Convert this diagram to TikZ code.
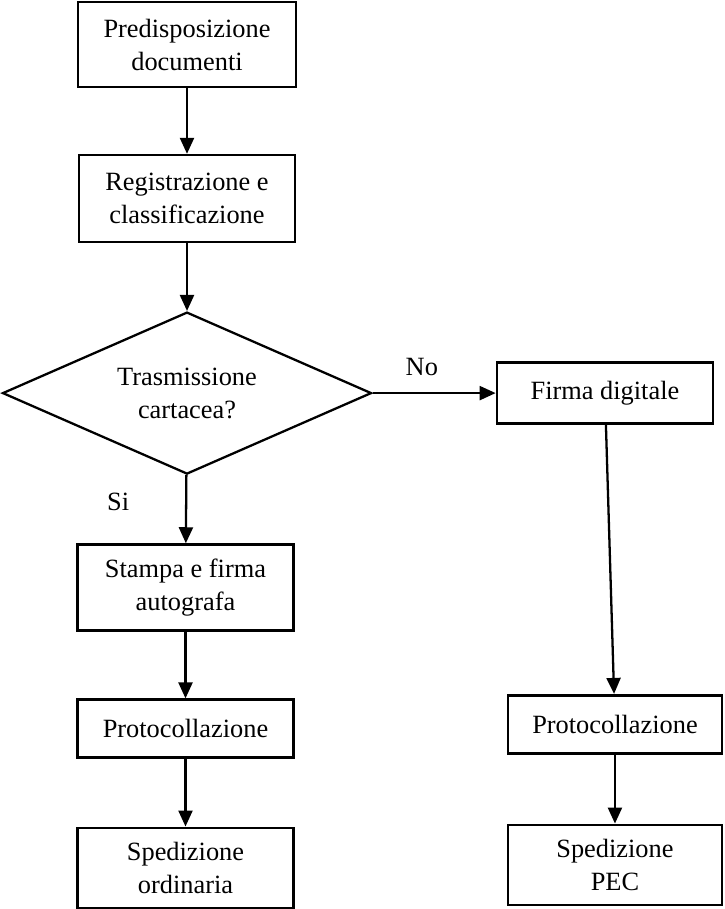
\documentclass[tikz,border=0pt]{standalone}
\usepackage{fontspec}
\setmainfont{Liberation Serif}
\usetikzlibrary{positioning, shapes.geometric, arrows.meta}

\begin{document}
\begin{tikzpicture}[box/.style={draw,line width=1.5pt,align=center,inner sep=2pt,font=\fontsize{15}{18.8}\selectfont},
						choice/.style={diamond,draw,line width=1.3pt,align=center,aspect=2,inner sep=0pt,font=\fontsize{15}{18.8}\selectfont},
						tag/.style={font=\fontsize{15}{18.8}\selectfont},
						arrow/.style={line width=1.3pt,-{Triangle[length=0.32cm,width=0.28cm]}}]
		\useasboundingbox (0,0) rectangle (14.48,-18.18);
		\node[box,minimum width=4.36cm,minimum height=1.7cm]											(pd)	at (3.74,-0.89)	{Predisposizione\\documenti};
		\node[box,minimum width=4.32cm,minimum height=1.74cm,node distance=1.31cm,below=of pd]				(rc)	{Registrazione e\\classificazione};
		\node[choice,minimum width=7.38cm,minimum height=3.24cm,node distance=1.35cm,below=of rc]			(tc)	{Trasmissione\\cartacea?};
		\node[box,minimum width=4.32cm,minimum height=1.22cm,node distance=2.46cm,right=of tc]				(fd)	{Firma digitale};
		\node[box,minimum width=4.32cm,minimum height=1.72cm,node distance=1.36cm,below=of tc,xshift=-0.03cm]	(sf)	{Stampa e firma\\autografa};
		\node[box,minimum width=4.32cm,minimum height=1.16cm,node distance=1.33cm,below=of sf]				(pl)	{Protocollazione};
		\node[box,minimum width=4.32cm,minimum height=1.6cm,node distance=1.35cm,below=of pl]				(so)	{Spedizione\\ordinaria};
		\node[box,minimum width=4.28cm,minimum height=1.16cm,node distance=5.38cm,below=of fd,xshift=0.2cm]	(pr)	{Protocollazione};
		\node[box,minimum width=4.28cm,minimum height=1.6cm,node distance=1.38cm,below=of pr]				(sp)	{Spedizione\\PEC};

		\draw[arrow] (pd) -- (rc);
		\draw[arrow] (rc) -- (tc);
		\draw[arrow] (tc) -- node[tag,above=6pt,pos=0.4] (no) {No} (fd);
		\draw[arrow] (tc) -- node[tag,left=1.0cm,pos=0.4] (si) {Si} (sf);
		\draw[arrow] (sf) -- (pl);
		\draw[arrow] (pl) -- (so);
		\draw[arrow] (fd) -- (pr);
		\draw[arrow] (pr) -- (sp);
	\end{tikzpicture}
\end{document}
